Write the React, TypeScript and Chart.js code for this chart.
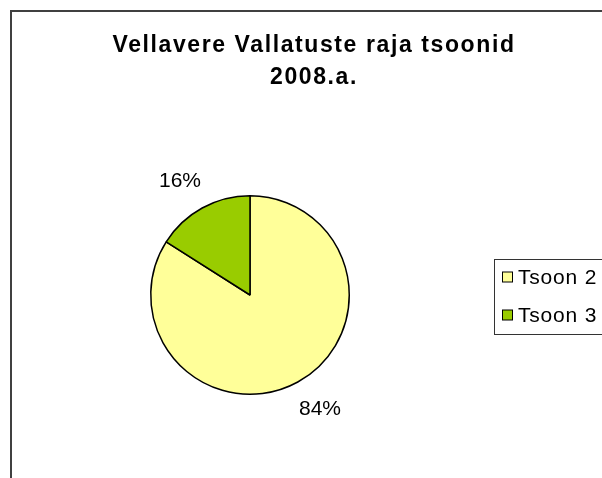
import React, { useEffect, useRef } from "react";
import { Chart, registerables } from "chart.js";

Chart.register(...registerables);

const titleLines = ["Vellavere Vallatuste raja tsoonid", "2008.a."];
const categories = ["Tsoon 2", "Tsoon 3"];
const shares = [84, 16];
const colors = ["#FFFF99", "#99CC00"];

const FONT = '"Liberation Sans", Arial, sans-serif';

const decorPlugin = {
  id: "decor",
  beforeDraw(chart: any) {
    const ctx = chart.ctx;
    ctx.save();
    ctx.fillStyle = "#ffffff";
    ctx.fillRect(0, 0, chart.width, chart.height);
    ctx.strokeStyle = "#404040";
    ctx.lineWidth = 2;
    ctx.strokeRect(11, 11, chart.width + 20, chart.height + 20);
    ctx.restore();
  },
  afterDraw(chart: any) {
    const ctx = chart.ctx;
    ctx.save();
    // title
    ctx.fillStyle = "#000";
    ctx.textAlign = "center";
    ctx.textBaseline = "middle";
    ctx.font = `bold 23px ${FONT}`;
    try { (ctx as any).letterSpacing = "1.6px"; } catch (e) {}
    ctx.fillText(titleLines[0], 314, 46);
    ctx.fillText(titleLines[1], 314, 78);
    try { (ctx as any).letterSpacing = "0px"; } catch (e) {}

    // percentage labels
    const meta = chart.getDatasetMeta(0);
    const data = chart.data.datasets[0].data as number[];
    const total = data.reduce((a, b) => a + b, 0);
    ctx.font = `21px ${FONT}`;
    meta.data.forEach((arc: any, i: number) => {
      const mid = (arc.startAngle + arc.endAngle) / 2;
      const c = Math.cos(mid);
      const s = Math.sin(mid);
      const txt = Math.round((data[i] / total) * 100) + "%";
      const w = ctx.measureText(txt).width;
      const r = arc.outerRadius + 25;
      const x = arc.x + c * r + c * (w / 2);
      const y = arc.y + s * r + s * 6;
      ctx.fillText(txt, x, y);
    });

    // legend
    ctx.strokeStyle = "#333";
    ctx.lineWidth = 1;
    ctx.strokeRect(494.5, 259.5, 200, 75);
    ctx.textAlign = "left";
    try { (ctx as any).letterSpacing = "0.8px"; } catch (e) {}
    const labels = chart.data.labels as string[];
    const bg = chart.data.datasets[0].backgroundColor as string[];
    labels.forEach((lab, i) => {
      const cy = 277 + i * 38;
      ctx.fillStyle = bg[i];
      ctx.fillRect(502.5, cy - 5, 10, 10);
      ctx.strokeStyle = "#000";
      ctx.strokeRect(502.5, cy - 5, 10, 10);
      ctx.fillStyle = "#000";
      ctx.fillText(lab, 518, cy + 1);
    });
    ctx.restore();
  },
};

export default function App() {
  const ref = useRef<HTMLCanvasElement>(null);
  useEffect(() => {
    if (!ref.current) return;
    const chart = new Chart(ref.current, {
      type: "pie",
      data: {
        labels: categories,
        datasets: [
          {
            data: shares,
            backgroundColor: colors,
            borderColor: "#000",
            borderWidth: 1.5,
          },
        ],
      },
      options: {
        responsive: false,
        animation: false,
        layout: { padding: { left: 149, top: 195, right: 251, bottom: 83 } },
        plugins: {
          legend: { display: false },
          title: { display: false },
          tooltip: { enabled: false },
        },
      },
      plugins: [decorPlugin],
    });
    return () => chart.destroy();
  }, []);
  return (
    <div style={{ position: "fixed", left: 0, top: 0, width: 602, height: 478, background: "#fff" }}>
      <canvas ref={ref} width={602} height={478} style={{ display: "block" }} />
    </div>
  );
}
